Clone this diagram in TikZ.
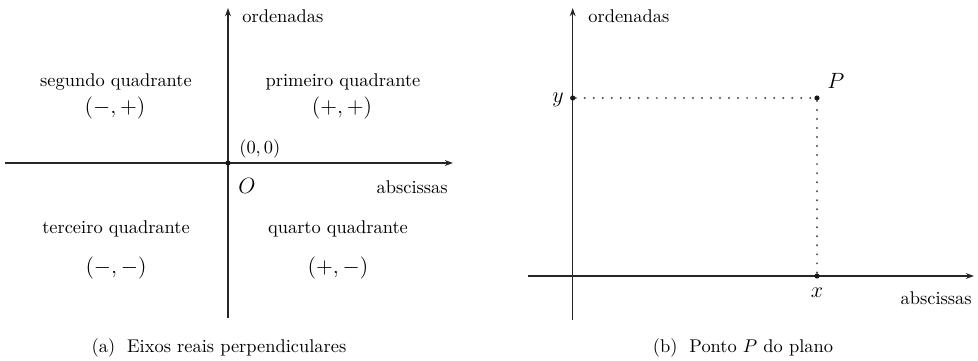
\documentclass[tikz,border=0pt]{standalone}
\usetikzlibrary{arrows.meta}
\begin{document}
\begin{tikzpicture}[x=0.543pt,y=-0.543pt,
  axis/.style={line width=0.7pt, black!85},
  arrowaxis/.style={axis,-{Stealth[length=4.5pt,width=3.2pt]}},
  dotnode/.style={circle,fill=black!90,inner sep=0pt,minimum size=2.8pt},
  guide/.style={line width=1.2pt, black!70, dash pattern=on 0pt off 4.9pt, line cap=round},
  lbl/.style={inner sep=0pt},
  signs/.style={inner sep=0pt,font=\large}]
\useasboundingbox (0,0) rectangle (978,360);
% ---------- (a) ----------
\coordinate (aL) at (5,163);
\coordinate (aR) at (453,163);
\coordinate (aB) at (228,318);
\coordinate (aT) at (228,8);
\draw[arrowaxis] (aL) -- (aR);
\draw[arrowaxis] (aB) -- (aT);
\node[dotnode] (O) at (228,163) {};
\node[lbl,anchor=base west] (ordA) at (242,22) {ordenadas};
\node[lbl,anchor=base west] (orig) at (239,153) {$(0,0)$};
\node[signs,anchor=base west] (Olab) at (238,193) {$O$};
\node[lbl,anchor=base east] (absA) at (448,193) {abscissas};
\node[lbl,anchor=base] (q2) at (116,86) {segundo quadrante};
\node[signs,anchor=base] (s2) at (115,113) {$(-,+)$};
\node[lbl,anchor=base] (q1) at (343,86) {primeiro quadrante};
\node[signs,anchor=base] (s1) at (342,113) {$(+,+)$};
\node[lbl,anchor=base] (q3) at (116,233) {terceiro quadrante};
\node[signs,anchor=base] (s3) at (116,273) {$(-,-)$};
\node[lbl,anchor=base] (q4) at (338,233) {quarto quadrante};
\node[signs,anchor=base] (s4) at (338,273) {$(+,-)$};
\node[lbl,anchor=base] (capA) at (219,352) {(a)\hspace{6.5pt}Eixos reais perpendiculares};
% ---------- (b) ----------
\coordinate (bL) at (528,276);
\coordinate (bR) at (974,276);
\coordinate (bB) at (572.7,320);
\coordinate (bT) at (572.7,8);
\draw[arrowaxis] (bL) -- (bR);
\draw[arrowaxis] (bB) -- (bT);
\node[dotnode] (P) at (817,98) {};
\node[dotnode] (ydot) at (572.7,98) {};
\node[dotnode] (xdot) at (817,276) {};
\draw[guide] (ydot) -- (P);
\draw[guide] (P) -- (xdot);
\node[lbl,anchor=base west] (ordB) at (588,22) {ordenadas};
\node[signs,anchor=base east] (ylab) at (564,102) {$y$};
\node[signs,anchor=base west] (Plab) at (827,88) {$P$};
\node[signs,anchor=base] (xlab) at (817,297) {$x$};
\node[lbl,anchor=base east] (absB) at (972,304) {abscissas};
\node[lbl,anchor=base] (capB) at (743,352) {(b)\hspace{6.5pt}Ponto $P$ do plano};
\end{tikzpicture}
\end{document}
